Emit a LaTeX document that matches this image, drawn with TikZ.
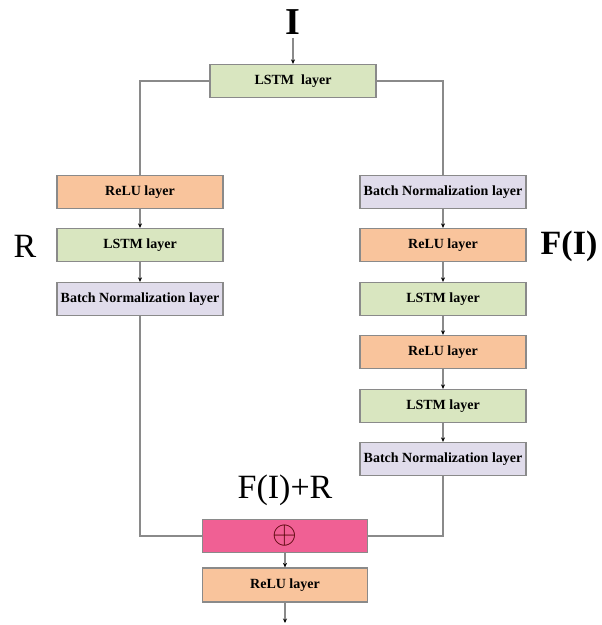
\documentclass[tikz,border=0pt]{standalone}
\usepackage{fontspec}
\setmainfont{Liberation Serif}
\usepackage{graphicx}
\usepackage{tikz}
\usetikzlibrary{positioning, calc, arrows.meta}

\definecolor{reluC}{HTML}{F9C49C}
\definecolor{lstmC}{HTML}{D9E6C0}
\definecolor{bnC}{HTML}{E0DCEB}
\definecolor{addC}{HTML}{F06094}
\definecolor{wireC}{HTML}{8A8A8A}

\tikzset{
    layer/.style={draw=wireC, line width=1.2pt, minimum width=166pt, minimum height=33pt,
                  inner sep=0pt, font=\fontsize{14}{16}\selectfont\bfseries},
    relu/.style={layer, fill=reluC},
    lstm/.style={layer, fill=lstmC},
    bn/.style={layer, fill=bnC},
    wire/.style={draw=wireC, line width=1.2pt},
    flow/.style={wire, -{Stealth[length=4.5pt, width=4pt, black]}},
    biglabel/.style={font=\fontsize{34}{40}\selectfont}
}

\begin{document}
\begin{tikzpicture}[x=1pt, y=-1pt]
    \useasboundingbox (0,0) rectangle (602,625);

    % Input and first LSTM layer
    \node[biglabel, font=\fontsize{38}{44}\selectfont\bfseries] (inp) at (293,22) {I};
    \node[lstm] (lstm0) at (293,81) {LSTM\ \ layer};
    \draw[flow] (inp.south) -- (lstm0.north);

    % Left branch (R)
    \node[relu] (reluL) at (140,192) {ReLU layer};
    \node[lstm] (lstmL) at (140,245) {LSTM layer};
    \node[bn]   (bnL)   at (140,299) {Batch Normalization layer};
    \node[biglabel] (labR) at (25,246) {R};

    \draw[wire] (lstm0.west) -| (reluL.north);
    \draw[flow] (reluL) -- (lstmL);
    \draw[flow] (lstmL) -- (bnL);

    % Right branch F(I)
    \node[bn]   (bnR1)   at (443,192) {Batch Normalization layer};
    \node[relu] (reluR1) at (443,245) {ReLU layer};
    \node[lstm] (lstmR1) at (443,299) {LSTM layer};
    \node[relu] (reluR2) at (443,352) {ReLU layer};
    \node[lstm] (lstmR2) at (443,406) {LSTM layer};
    \node[bn]   (bnR2)   at (443,459) {Batch Normalization layer};
    \node[biglabel, font=\fontsize{34}{40}\selectfont\bfseries] (labF) at (569,246) {F(I)};

    \draw[wire] (lstm0.east) -| (bnR1.north);
    \draw[flow] (bnR1) -- (reluR1);
    \draw[flow] (reluR1) -- (lstmR1);
    \draw[flow] (lstmR1) -- (reluR2);
    \draw[flow] (reluR2) -- (lstmR2);
    \draw[flow] (lstmR2) -- (bnR2);

    % Addition and output
    \node[layer, fill=addC, minimum width=165pt] (add) at (285,536) {\color{black!70!red}\scalebox{2.2}{$\oplus$}};
    \node[biglabel] (labSum) at (285,490) {F(I)+R};
    \node[relu, minimum width=165pt, minimum height=34pt] (reluOut) at (285,585) {ReLU layer};
    \coordinate (out) at (285,623);

    \draw[wire] (bnL.south) |- (add.west);
    \draw[wire] (bnR2.south) |- (add.east);
    \draw[flow] (add) -- (reluOut);
    \draw[flow] (reluOut) -- (out);

\end{tikzpicture}
\end{document}
